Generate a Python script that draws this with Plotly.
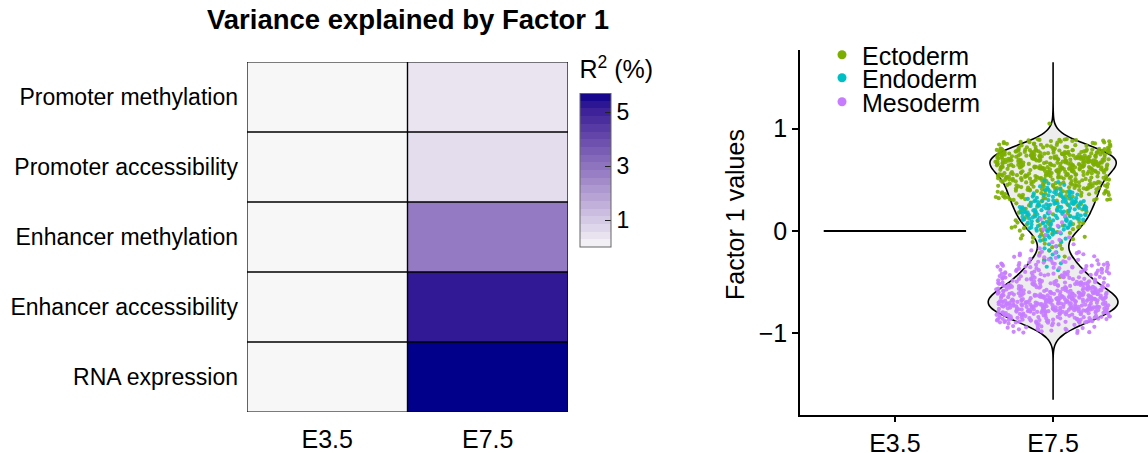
import plotly.graph_objects as go
import numpy as np

# ---------------- data ----------------
STAGES = ["E3.5", "E7.5"]
VIEWS = ["Promoter methylation", "Promoter accessibility", "Enhancer methylation",
         "Enhancer accessibility", "RNA expression"]
R2_E35 = [0.0, 0.0, 0.0, 0.0, 0.0]
R2_E75 = [0.41, 0.57, 2.83, 5.19, 5.70]

E35_FACTOR_VALUE = 0.0  # all E3.5 cells have factor value 0

# factor-1 values of E7.5 cells, read as counts per 0.1-wide bin (bin lower edges)
BIN_LO = [-1.0, -0.9, -0.8, -0.7, -0.6, -0.5, -0.4, -0.3, -0.2, -0.1,
          0.0, 0.1, 0.2, 0.3, 0.4, 0.5, 0.6, 0.7, 0.8, 1.0]
ECTO_COUNTS = [0, 0, 0, 0, 0, 1, 0, 3, 6, 13, 20, 12, 15, 45, 66, 82, 110, 110, 45, 1]
ENDO_COUNTS = [0, 0, 0, 0, 0, 0, 3, 5, 5, 10, 26, 42, 48, 26, 7, 0, 0, 0, 0, 0]
MESO_COUNTS = [25, 75, 112, 112, 75, 55, 40, 20, 5, 4, 3, 3, 0, 0, 0, 0, 0, 0, 0, 0]
BIN_W = 0.1
LINEAGES = ["Ectoderm", "Endoderm", "Mesoderm"]
LINEAGE_COLORS = ["#7CAE00", "#00BFC4", "#C77CFF"]


def expand(counts):
    vals = []
    for lo, n in zip(BIN_LO, counts):
        for k in range(n):
            vals.append(lo + (k + 0.5) * BIN_W / n)
    return vals


lineage_vals = [expand(ECTO_COUNTS), expand(ENDO_COUNTS), expand(MESO_COUNTS)]
all_vals = [v for lv in lineage_vals for v in lv]


# ---------------- colour scale (Lab interpolation grey97 -> darkblue) ----------------
def _lin(c):
    c = c / 255.0
    return c / 12.92 if c <= 0.04045 else ((c + 0.055) / 1.055) ** 2.4


def _unlin(c):
    c = 12.92 * c if c <= 0.0031308 else 1.055 * c ** (1 / 2.4) - 0.055
    return int(round(min(max(c, 0), 1) * 255))


WHITE = (0.95047, 1.0, 1.08883)


def hex2lab(h):
    r, g, b = [_lin(int(h[i:i + 2], 16)) for i in (1, 3, 5)]
    X = 0.4124 * r + 0.3576 * g + 0.1805 * b
    Y = 0.2126 * r + 0.7152 * g + 0.0722 * b
    Z = 0.0193 * r + 0.1192 * g + 0.9505 * b
    f = lambda t: t ** (1 / 3) if t > 216 / 24389 else (24389 / 27 * t + 16) / 116
    fx, fy, fz = f(X / WHITE[0]), f(Y / WHITE[1]), f(Z / WHITE[2])
    return 116 * fy - 16, 500 * (fx - fy), 200 * (fy - fz)


def lab2hex(L, a, b):
    fy = (L + 16) / 116
    fx = fy + a / 500
    fz = fy - b / 200
    finv = lambda t: t ** 3 if t ** 3 > 216 / 24389 else (116 * t - 16) / (24389 / 27)
    X, Y, Z = finv(fx) * WHITE[0], finv(fy) * WHITE[1], finv(fz) * WHITE[2]
    r = 3.2406 * X - 1.5372 * Y - 0.4986 * Z
    g = -0.9689 * X + 1.8758 * Y + 0.0415 * Z
    bb = 0.0557 * X - 0.2040 * Y + 1.0570 * Z
    return "#%02x%02x%02x" % (_unlin(r), _unlin(g), _unlin(bb))


lo_lab, hi_lab = hex2lab("#F7F7F7"), hex2lab("#00008B")


def lab_at(t):
    return lab2hex(*[lo_lab[k] + t * (hi_lab[k] - lo_lab[k]) for k in range(3)])


colorscale = [[float(t), lab_at(t)] for t in np.linspace(0, 1, 21)]
NBIN = 20
stepped = []
for k in range(NBIN):
    c = lab_at((k + 0.5) / NBIN)
    stepped.append([k / NBIN, c])
    stepped.append([(k + 1) / NBIN, c])

W, H = 1148, 453
FONT = "Liberation Sans, Arial, Helvetica, sans-serif"
ZMIN, ZMAX = 0, 5.7

fig = go.Figure()

# ---------------- heatmap ----------------
z = [[R2_E35[i], R2_E75[i]] for i in range(len(VIEWS))]
fig.add_trace(go.Heatmap(
    z=z, x=STAGES, y=VIEWS, xaxis="x", yaxis="y",
    colorscale=colorscale, zmin=ZMIN, zmax=ZMAX, showscale=False,
    hoverinfo="skip",
))
# legend bar for the heatmap (binned like the original guide)
fig.add_trace(go.Heatmap(
    z=z, x=STAGES, y=VIEWS, xaxis="x", yaxis="y", opacity=0,
    colorscale=stepped, zmin=ZMIN, zmax=ZMAX, showscale=True,
    colorbar=dict(
        x=580 / W, xanchor="left", xpad=0,
        y=1 - 247 / H, yanchor="bottom", ypad=0,
        len=190, lenmode="pixels", thickness=31, thicknessmode="pixels",
        tickvals=[1, 3, 5], ticks="inside", ticklen=6, tickcolor="#222",
        outlinecolor="#666", outlinewidth=1,
        tickfont=dict(size=23, color="black", family=FONT),
        title=dict(text="R<sup>2</sup> (%)", side="top",
                   font=dict(size=25, color="black", family=FONT)),
    ),
    hoverinfo="skip",
))

shapes = []
for i in range(len(VIEWS)):
    for j in range(len(STAGES)):
        shapes.append(dict(type="rect", xref="x", yref="y",
                           x0=j - 0.5, x1=j + 0.5, y0=i - 0.5, y1=i + 0.5,
                           line=dict(color="black", width=1.2), fillcolor="rgba(0,0,0,0)"))

# ---------------- violin panel ----------------
E35_X, E75_X = 0, 1
fig.add_trace(go.Scatter(
    x=[E35_X - 0.45, E35_X + 0.45], y=[E35_FACTOR_VALUE, E35_FACTOR_VALUE],
    mode="lines", line=dict(color="black", width=2), xaxis="x2", yaxis="y2",
    showlegend=False, hoverinfo="skip"))

SPAN = [-1.65, 1.65]
BW = 0.09
fig.add_trace(go.Violin(
    y=all_vals, x0=E75_X, xaxis="x2", yaxis="y2", width=0.82,
    bandwidth=BW, spanmode="manual", span=SPAN,
    fillcolor="#EDEDED", line=dict(color="black", width=1.6),
    points=False, box=dict(visible=False), meanline=dict(visible=False),
    showlegend=False, hoverinfo="skip"))

point_widths = [0.73, 0.44, 0.72]
legend_ids = ["legend", "legend2", "legend3"]
legend_y = [55, 78, 102]
for name, col, vals, w, lid in zip(LINEAGES, LINEAGE_COLORS, lineage_vals, point_widths, legend_ids):
    fig.add_trace(go.Violin(
        y=vals, x0=E75_X, xaxis="x2", yaxis="y2", width=w,
        bandwidth=BW, spanmode="hard",
        fillcolor="rgba(0,0,0,0)", line=dict(color="rgba(0,0,0,0)", width=0),
        points="all", jitter=1, pointpos=0,
        marker=dict(color=col, size=4.2, opacity=0.9, line=dict(width=0)),
        box=dict(visible=False), meanline=dict(visible=False),
        showlegend=False, hoveron="points"))
    fig.add_trace(go.Scatter(
        x=[None], y=[None], mode="markers", name=name, xaxis="x2", yaxis="y2",
        marker=dict(color=col, size=9), legend=lid))

legend_common = dict(x=822 / W, xanchor="left", yanchor="middle",
                     bgcolor="rgba(0,0,0,0)", font=dict(size=25, family=FONT, color="black"),
                     itemwidth=30, borderwidth=0)

axis_font = dict(size=23, family=FONT, color="black")
x_font = dict(size=25, family=FONT, color="black")
fig.update_layout(
    width=W, height=H,
    margin=dict(l=0, r=0, t=0, b=0, autoexpand=False),
    paper_bgcolor="white", plot_bgcolor="white",
    font=dict(family=FONT, color="black", size=23),
    violinmode="overlay",
    shapes=shapes,
    title=dict(text="<b>Variance explained by Factor 1</b>", x=408 / W, xanchor="center",
               y=1 - 19 / H, yanchor="middle", font=dict(size=27.5, family=FONT, color="black")),
    xaxis=dict(domain=[247 / W, 568 / W], anchor="y", range=[-0.5, 1.5], automargin=False,
               showgrid=False, zeroline=False, showline=False,
               ticks="", ticklabelstandoff=10, tickfont=x_font),
    yaxis=dict(domain=[1 - 412 / H, 1 - 62 / H], anchor="x", range=[4.5, -0.5], automargin=False,
               showgrid=False, zeroline=False, showline=False,
               ticks="", ticklabelstandoff=8, tickfont=axis_font),
    xaxis2=dict(domain=[800 / W, 1.0], anchor="y2", type="linear", range=[-0.6, 1.6],
                automargin=False, tickvals=[E35_X, E75_X], ticktext=STAGES,
                showgrid=False, zeroline=False, showline=True, linecolor="black", linewidth=1.5,
                ticks="outside", ticklen=5, tickwidth=1.5, tickcolor="black",
                ticklabelstandoff=0, tickfont=x_font),
    yaxis2=dict(domain=[1 - 415 / H, 1 - 50 / H], anchor="x2", range=[-1.8, 1.77],
                automargin=False, tickvals=[-1, 0, 1],
                showgrid=False, zeroline=False, showline=True, linecolor="black", linewidth=1.5,
                ticks="outside", ticklen=6, tickwidth=1.5, tickcolor="black",
                tickfont=x_font),
    annotations=[dict(text="Factor 1 values", textangle=-90, xref="paper", yref="paper",
                      x=735 / W, y=1 - 215 / H, xanchor="center", yanchor="middle",
                      showarrow=False, font=dict(size=25, family=FONT, color="black"))],
    legend=dict(y=1 - legend_y[0] / H, **legend_common),
    legend2=dict(y=1 - legend_y[1] / H, **legend_common),
    legend3=dict(y=1 - legend_y[2] / H, **legend_common),
)

fig.write_html("out.html", config={"displayModeBar": False},
               post_script="document.body.style.margin='0';")
